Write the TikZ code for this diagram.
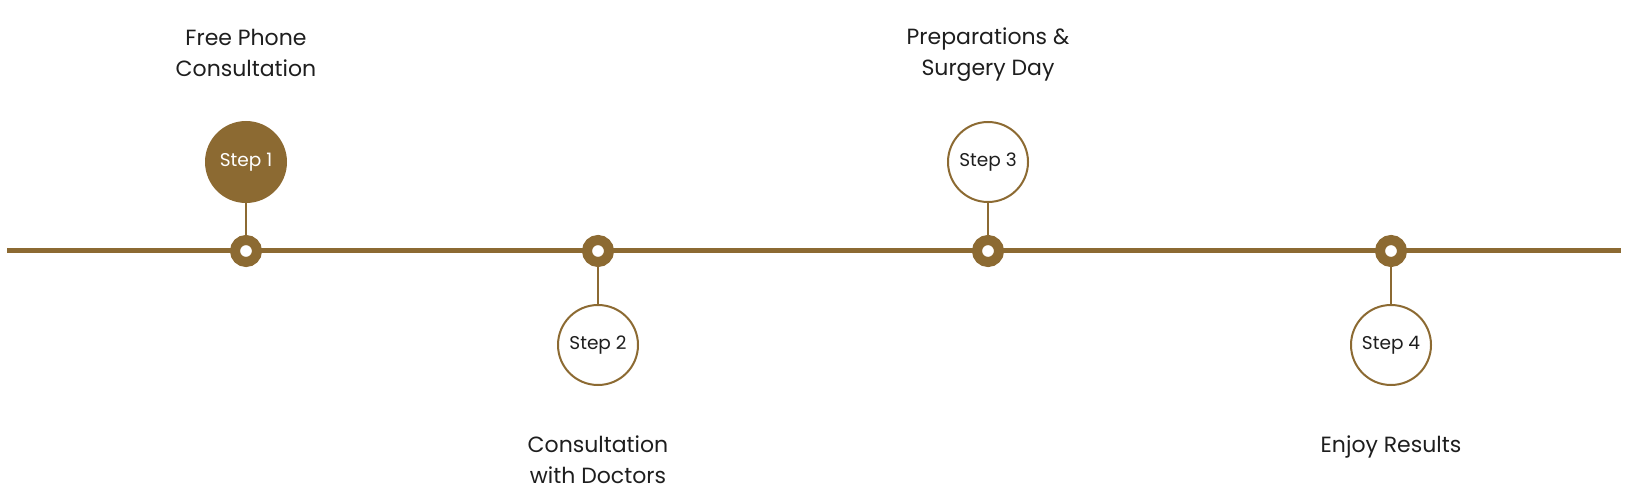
\documentclass[tikz,border=0pt]{standalone}
\usepackage{fontspec}
\setmainfont{Poppins}
\usetikzlibrary{positioning}
\definecolor{gold}{RGB}{140,106,50}
\definecolor{ink}{RGB}{30,30,30}

\begin{document}
\begin{tikzpicture}[x=1pt, y=-1pt,
  dot/.style={circle, draw=gold, fill=white, line width=10pt, minimum size=22pt, inner sep=0pt},
  stepbox/.style={circle, draw=gold, line width=2pt, fill=white, minimum size=80pt, inner sep=0pt, text=ink, font=\fontsize{18.5}{20}\selectfont},
  label/.style={align=center, inner sep=0pt, text=ink, font=\fontsize{22}{31}\selectfont},
  stem/.style={draw=gold, line width=2pt}
]
\useasboundingbox (0,0) rectangle (1627,494);

\coordinate (start) at (7,251);
\coordinate (end) at (1621,251);
\draw[gold, line width=5pt] (start) -- (end);

\node[dot] (d1) at (246,251) {};
\node[dot] (d2) at (598,251) {};
\node[dot] (d3) at (988,251) {};
\node[dot] (d4) at (1391,251) {};

\node[stepbox, fill=gold, text=white, above=32pt of d1] (phone) {Step 1};
\node[stepbox, below=37pt of d2] (doctors) {Step 2};
\node[stepbox, above=32pt of d3] (surgery) {Step 3};
\node[stepbox, below=37pt of d4] (results) {Step 4};

\draw[stem] (phone) -- (d1);
\draw[stem] (doctors) -- (d2);
\draw[stem] (surgery) -- (d3);
\draw[stem] (results) -- (d4);

\node[label, above=44pt of phone] (phonetxt) {Free Phone\\Consultation};
\node[label, below=50pt of doctors] (doctorstxt) {Consultation\\with Doctors};
\node[label, above=39pt of surgery] (surgerytxt) {Preparations \&\\Surgery Day};
\node[label, below=50pt of results] (resultstxt) {Enjoy Results};
\end{tikzpicture}
\end{document}
